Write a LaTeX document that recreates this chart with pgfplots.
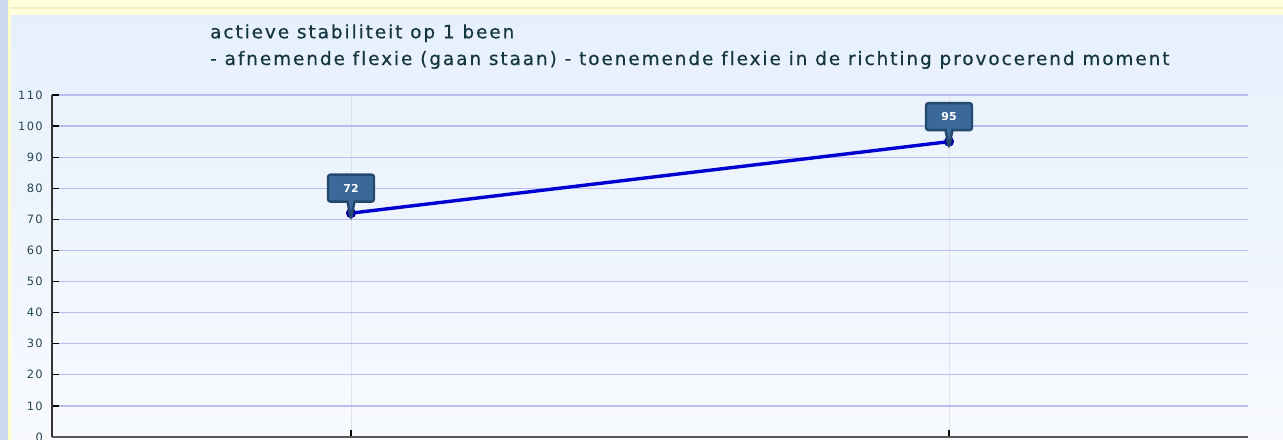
\documentclass[border=0pt]{standalone}
\usepackage{fontspec}
\setmainfont{DejaVu Sans}
\newfontfamily\tickfont[LetterSpace=12]{DejaVu Sans}
\newfontfamily\titlefont[LetterSpace=10.5, Ligatures={NoCommon}, FakeBold=0.5]{DejaVu Sans}
\usepackage{pgfplots}
\pgfplotsset{compat=1.18}
\usetikzlibrary{shapes.callouts}
\definecolor{titlec}{HTML}{143640}
\definecolor{tickc}{HTML}{254650}
\definecolor{leftc}{HTML}{CCD8EE}
\definecolor{yel}{HTML}{FFFFC8}
\definecolor{topyel}{HTML}{FFFFDC}
\definecolor{yelline}{HTML}{EEEEC4}
\definecolor{panelTop}{HTML}{E6F0FC}
\definecolor{panelBot}{HTML}{F8FAFE}
\definecolor{gridc}{HTML}{B8BCF0}
\definecolor{xgridc}{HTML}{DDE2EC}
\definecolor{lineblue}{HTML}{0000D0}
\definecolor{markblue}{HTML}{0000A8}
\definecolor{markor}{HTML}{C86414}
\definecolor{calloutc}{HTML}{3A6898}
\definecolor{calloutd}{HTML}{24486E}
\begin{document}
\begin{tikzpicture}
\begin{scope}[x=1bp,y=1bp]
\useasboundingbox (0,0) rectangle (1283,440);
\clip (0,0) rectangle (1283,440);
\fill[leftc] (0,0) rectangle (8,440);
\fill[yel] (8,0) rectangle (1283,440);
\fill[topyel] (10,425) rectangle (1283,440);
\draw[yelline, line width=1.5bp] (10,432) -- (1283,432);
\shade[top color=panelTop, bottom color=panelBot] (11,0) rectangle (1283,424);
\node[anchor=base west, inner sep=0pt, text=titlec, font=\titlefont\fontsize{18.5}{20}\selectfont] at (210,401.7) {actieve stabiliteit op 1 been};
\node[anchor=base west, inner sep=0pt, text=titlec, font=\titlefont\fontsize{18.5}{20}\selectfont] at (210,375) {- afnemende flexie (gaan staan) - toenemende flexie in de richting provocerend moment};
\end{scope}
\clip (0,0) rectangle (1283bp,440bp);
\begin{axis}[
  at={(52bp,3bp)}, anchor=south west,
  scale only axis, width=1196bp, height=342bp,
  xmin=-0.5, xmax=1.5, ymin=0, ymax=110,
  xtick={0,1}, xticklabels={{},{}},
  ytick={0,10,...,110},
  /pgf/number format/assume math mode=true,
  axis lines*=left,
  x axis line style={color=black!65, line width=2.5bp, -},
  y axis line style={color=black!80, line width=1.5bp, -},
  tick align=inside, major tick length=7bp,
  tick style={black, line width=1.2bp},
  ymajorgrids, xmajorgrids,
  y grid style={gridc, line width=1.3bp},
  x grid style={xgridc, line width=1bp},
  yticklabel style={font=\tickfont\fontsize{11.5}{11.5}\selectfont, text=tickc, anchor=east, inner sep=0pt, xshift=-9bp},
  clip=false,
]
\addplot[color=lineblue, line width=3.4bp, mark=*, mark size=3.8bp,
  mark options={fill=markor, draw=markblue, line width=2.4bp},
  nodes near coords,
  every node near coord/.style={rectangle callout, fill=calloutc, draw=calloutd, rounded corners=2.5bp,
    text=white, font=\bfseries\fontsize{11}{11}\selectfont, minimum width=46bp, minimum height=27bp,
    anchor=center, yshift=25bp, callout relative pointer={(270:17bp)}}
] coordinates {(0,72) (1,95)};
\end{axis}
\end{tikzpicture}
\end{document}
